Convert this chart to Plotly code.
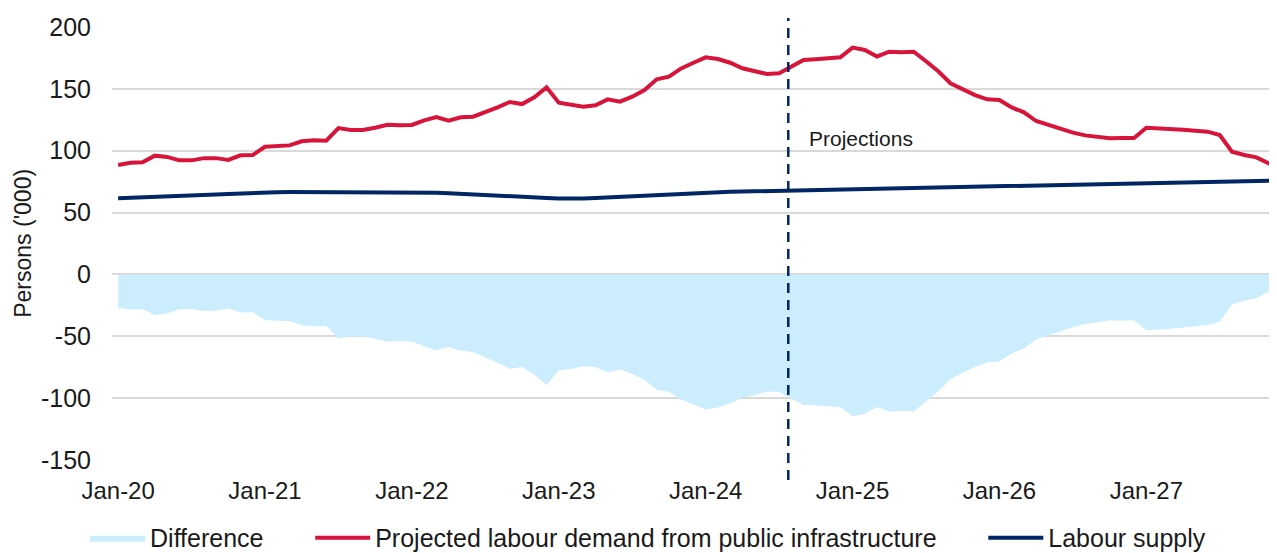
import plotly.graph_objects as go

# ---------------- data ----------------
years = ["20", "21", "22", "23", "24", "25", "26", "27"]
month_names = ["Jan", "Feb", "Mar", "Apr", "May", "Jun",
               "Jul", "Aug", "Sep", "Oct", "Nov", "Dec"]
months = [f"{m}-{y}" for y in years for m in month_names]

demand = [
    88.4, 90.3, 90.6, 96.0, 95.0, 92.2, 92.2, 94.0, 94.0, 92.5, 96.3, 96.5,
    103.2, 103.8, 104.3, 107.6, 108.4, 108.1, 118.3, 116.7, 116.7, 118.6, 121.0, 120.5,
    120.8, 124.5, 127.2, 124.3, 127.0, 127.5, 131.0, 135.0, 139.4, 137.7, 143.2, 151.2,
    138.8, 137.5, 135.6, 136.7, 141.5, 139.6, 143.7, 149.0, 157.7, 159.8, 166.5, 171.1,
    175.5, 174.1, 171.1, 166.6, 164.7, 162.0, 162.6, 168.0, 173.3, 173.9, 174.7, 175.5,
    183.3, 181.4, 176.2, 180.0, 179.5, 180.0, 172.3, 164.2, 154.5, 149.6, 145.0, 141.5,
    141.0, 135.0, 131.0, 124.0, 121.0, 117.5, 114.6, 112.4, 111.0, 110.0, 110.3, 110.3,
    118.6, 118.3, 117.8, 117.0, 116.2, 115.4, 112.7, 99.2, 96.5, 94.6, 89.8, 87.0,
]

supply = [
    61.5, 62.0, 62.5, 63.0, 63.5, 64.0, 64.2, 64.4, 64.7, 65.0, 65.5, 66.0,
    66.2, 66.5, 66.6, 66.6, 66.6, 66.6, 66.6, 66.6, 66.6, 66.6, 66.6, 66.6,
    66.6, 66.4, 66.0, 65.7, 65.3, 64.8, 64.2, 63.7, 63.2, 62.8, 62.3, 61.8,
    61.3, 61.0, 61.3, 61.8, 62.3, 62.8, 63.2, 63.8, 64.5, 65.0, 65.5, 66.0,
    66.4, 66.6, 66.8, 67.0, 67.2, 67.4, 67.5, 67.6, 67.8, 68.0, 68.2, 68.4,
    68.6, 68.8, 69.0, 69.1, 69.2, 69.3, 69.5, 69.7, 69.9, 70.1, 70.3, 70.6,
    70.9, 71.1, 71.3, 71.5, 71.7, 71.9, 72.1, 72.4, 72.6, 72.8, 73.0, 73.3,
    73.5, 73.7, 73.9, 74.1, 74.3, 74.5, 74.7, 74.9, 75.2, 75.5, 75.8, 76.0,
]

difference = [
    -26.9, -28.3, -28.1, -33.0, -31.5, -28.2, -28.0, -29.6, -29.3, -27.5, -30.8, -30.5,
    -37.0, -37.3, -37.7, -41.0, -41.8, -41.5, -51.7, -50.1, -50.1, -52.0, -54.4, -53.9,
    -54.2, -58.1, -61.2, -58.6, -61.7, -62.7, -66.8, -71.3, -76.2, -74.9, -80.9, -89.4,
    -77.5, -76.5, -74.3, -74.9, -79.2, -76.8, -80.5, -85.2, -93.2, -94.8, -101.0, -105.1,
    -109.1, -107.5, -104.3, -99.6, -97.5, -94.6, -95.1, -100.4, -105.5, -105.9, -106.5, -107.1,
    -114.7, -112.6, -107.2, -110.9, -110.3, -110.7, -102.8, -94.5, -84.6, -79.5, -74.7, -70.9,
    -70.1, -63.9, -59.7, -52.5, -49.3, -45.6, -42.5, -40.0, -38.4, -37.2, -37.3, -37.0,
    -45.1, -44.6, -43.9, -42.9, -41.9, -40.9, -38.0, -24.3, -21.3, -19.1, -14.0, -11.0,
]

y_tick_values = [-150, -100, -50, 0, 50, 100, 150, 200]
y_tick_labels = ["-150", "-100", "-50", "0", "50", "100", "150", "200"]

projection_label = "Projections"
projection_start = 54.75  # dashed divider position (month index, Jul/Aug-24)

# ---------------- styling ----------------
FONT = "Liberation Sans, Arial, sans-serif"
RED = "#D7153A"
NAVY = "#002664"
LIGHT_BLUE = "#CBEDFD"
GRID = "#D9D9D9"
TEXT = "#1a1a1a"
PAD = "\u00a0" * 6  # extra spacing between legend entries

x = list(range(len(months)))
jan_idx = [i for i, m in enumerate(months) if m.startswith("Jan")]
boundary_ticks = [i - 0.5 for i in jan_idx]
x_range = [-0.5, 95.33]

fig = go.Figure()
fig.add_trace(go.Scatter(
    x=x, y=difference, name="Difference" + PAD, mode="lines",
    line=dict(width=0, color=LIGHT_BLUE), fill="tozeroy", fillcolor=LIGHT_BLUE,
    customdata=months, hovertemplate="%{customdata}: %{y}<extra>Difference</extra>",
))
fig.add_trace(go.Scatter(
    x=x, y=demand, name="Projected labour demand from public infrastructure" + PAD,
    mode="lines", line=dict(width=4, color=RED),
    customdata=months, hovertemplate="%{customdata}: %{y}<extra></extra>",
))
fig.add_trace(go.Scatter(
    x=x, y=supply, name="Labour supply", mode="lines",
    line=dict(width=4, color=NAVY),
    customdata=months, hovertemplate="%{customdata}: %{y}<extra></extra>",
))

fig.update_layout(
    width=1277, height=553,
    margin=dict(l=104, r=0, t=19, b=101, autoexpand=False),
    paper_bgcolor="white", plot_bgcolor="white",
    font=dict(family=FONT, color=TEXT, size=24),
    showlegend=True,
    legend=dict(orientation="h", x=-0.023, xanchor="left", y=-0.180, yanchor="middle",
                font=dict(size=25, family=FONT, color=TEXT), bgcolor="rgba(0,0,0,0)",
                itemwidth=55, traceorder="normal"),
    xaxis=dict(range=x_range, tickmode="array", tickvals=jan_idx,
               ticktext=[months[i] for i in jan_idx], showgrid=False, showline=False,
               zeroline=False, ticks="", ticklabelstandoff=14,
               tickfont=dict(size=24, family=FONT, color=TEXT)),
    xaxis2=dict(overlaying="x", anchor="free", position=150 / 350, side="bottom",
                range=x_range, tickmode="array", tickvals=boundary_ticks,
                ticks="outside", ticklen=6, tickwidth=1.5, tickcolor=GRID,
                showline=True, linecolor=GRID, linewidth=2,
                showticklabels=False, showgrid=False, zeroline=False),
    yaxis=dict(range=[-150, 200], tickmode="array", tickvals=y_tick_values,
               ticktext=y_tick_labels,
               showgrid=True, gridcolor=GRID, gridwidth=1.5, zeroline=False,
               showline=False, ticks="", ticklabelstandoff=20,
               tickfont=dict(size=25, family=FONT, color=TEXT)),
    shapes=[dict(type="line", xref="x", yref="paper",
                 x0=projection_start, x1=projection_start, y0=-0.046, y1=1.021,
                 line=dict(color=NAVY, width=2.5, dash="10px,7px"))],
    annotations=[
        dict(text=projection_label, x=56.3, y=109.5, xref="x", yref="y",
             xanchor="left", yanchor="middle", showarrow=False,
             font=dict(size=21, family=FONT, color=TEXT)),
        dict(text="Persons ('000)", x=-0.0765, y=0.5, xref="paper", yref="paper",
             textangle=-90, xanchor="center", yanchor="middle", showarrow=False,
             font=dict(size=23, family=FONT, color=TEXT)),
    ],
)

fig.write_html("out.html")
